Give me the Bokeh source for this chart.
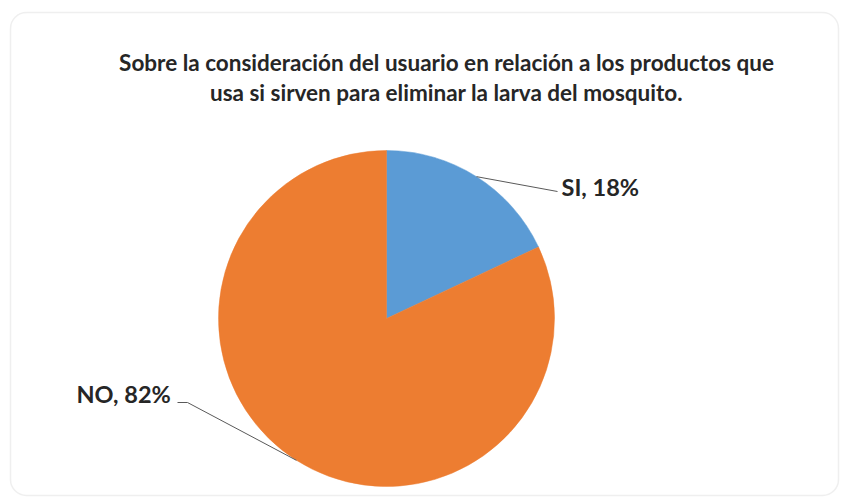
import math
from bokeh.plotting import figure
from bokeh.models import Range1d, BoxAnnotation
from bokeh.core.properties import value
from bokeh.embed import file_html
from bokeh.resources import INLINE

# ---- data ----
categories = ["SI", "NO"]
percentages = [18, 82]
colors = ["#5B9BD5", "#ED7D31"]
title_lines = [
    "Sobre la consideración del usuario en relación a los productos que",
    "usa si sirven para eliminar la larva del mosquito.",
]

W, H = 843, 497
p = figure(width=W, height=H, output_backend="svg", toolbar_location=None,
           x_range=Range1d(0, W), y_range=Range1d(0, H), min_border=0,
           tools="")
p.axis.visible = False
p.grid.visible = False
p.outline_line_color = None
p.background_fill_color = "white"
p.border_fill_color = "white"

# rounded chart-area border
box = BoxAnnotation(left=10, right=838, bottom=2, top=485, fill_color=None,
                    line_color="#c9c9c9", line_width=1.5, border_radius=16,
                    level="underlay")
p.add_layout(box)

# pie
cx, cy, r = 386, 179, 168
FONT = "Lato"
start = math.pi / 2
mids = []
for cat, pct, col in zip(categories, percentages, colors):
    sweep = pct / 100 * 2 * math.pi
    end = start - sweep
    p.wedge(x=cx, y=cy, radius=r, start_angle=end, end_angle=start,
            direction="anticlock", fill_color=col, line_color=col,
            line_width=0.5)
    mids.append((start + end) / 2)
    start = end

# labels with leader lines
lab_pos = [(561, 311), (76, 104)]
leader_pts = [[(557, 306)], [(187, 95), (177, 95)]]
for i, (cat, pct) in enumerate(zip(categories, percentages)):
    a = mids[i]
    sx, sy = cx + r * math.cos(a), cy + r * math.sin(a)
    xs = [sx] + [q[0] for q in leader_pts[i]]
    ys = [sy] + [q[1] for q in leader_pts[i]]
    p.line(xs, ys, line_color="#595959", line_width=1)
    lx, ly = lab_pos[i]
    p.text(x=[lx], y=[ly], text=[f"{cat}, {pct}%"], text_align="left",
           text_baseline="middle", text_font=value(FONT),
           text_font_style="bold", text_font_size="23.5px",
           text_color="#262626")

# title
for k, line in enumerate(title_lines):
    p.text(x=[446], y=[435 - 30 * k], text=[line], text_align="center",
           text_baseline="middle", text_font=value(FONT),
           text_font_style="bold", text_font_size="22.5px",
           text_color="#262626")

open("out.html", "w").write(file_html(p, INLINE))
